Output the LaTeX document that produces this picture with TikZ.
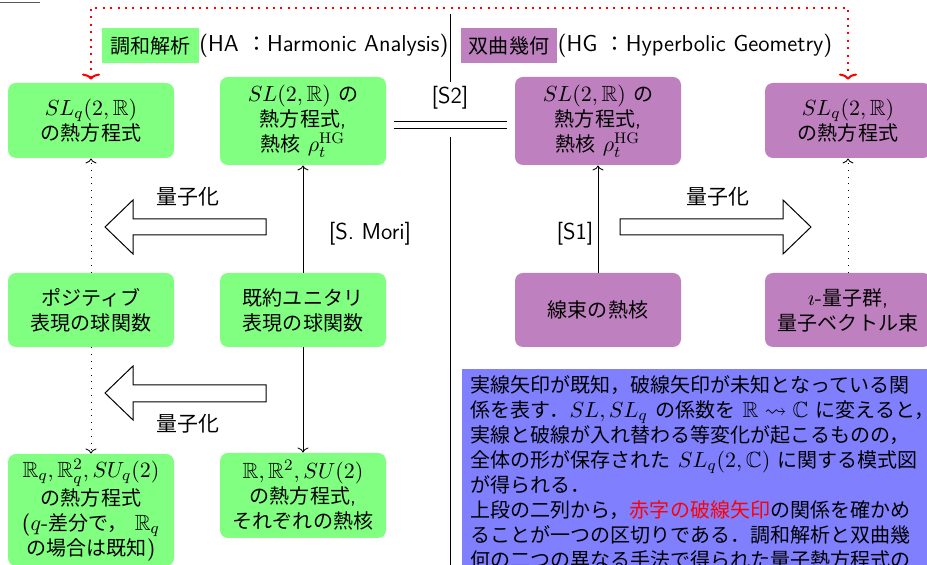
\documentclass[tikz,border=0pt]{standalone}
\usepackage{amssymb}
\usepackage{fontspec}
\renewcommand{\familydefault}{\sfdefault}
\newfontfamily\jpfont{Noto Sans CJK JP}[Scale=0.91]
\newcommand{\jp}[1]{{\jpfont #1}}
\usetikzlibrary{arrows.meta}
\tikzset{
  every node/.append style={font=\fontsize{11}{12.5}\selectfont},
  habox/.style={fill=green!50, rounded corners=4pt, minimum width=83pt, align=center, inner sep=2pt},
  hgbox/.style={fill=violet!50, rounded corners=4pt, minimum width=83pt, align=center, inner sep=2pt},
  tagbox/.style={minimum height=17.5pt, inner xsep=4pt, inner ysep=0pt},
  known/.style={line width=0.4pt, -{To[length=2.5pt,width=5.5pt]}},
  unknown/.style={line width=0.4pt, dash pattern=on 0.4pt off 3pt, -{To[length=2.5pt,width=5.5pt]}},
  redlink/.style={red, line width=1pt, dash pattern=on 1pt off 2.7pt,
     {To[length=3pt,width=9pt]}-{To[length=3pt,width=9pt]}, shorten <=1.5pt, shorten >=1.5pt},
  blockarrow/.style={draw=black, fill=white, line width=0.5pt},
  lbl/.style={inner sep=0pt, font=\fontsize{11.5}{13}\selectfont},
}
\begin{document}
\begin{tikzpicture}[x=0.5pt,y=-0.5pt]
\useasboundingbox (0,0) rectangle (927,565);
\clip (0,0) rectangle (927,565);

% header rule remnant
\draw[black!65, line width=0.75pt] (0,2.5) -- (40,2.5);

% headers
\node[tagbox, fill=green!50] (hatag) at (150.5,45.5) {\jp{調和解析}};
\node[anchor=west, lbl] (hatxt) at (hatag.east) {(HA \jp{：}Harmonic Analysis)};
\node[tagbox, fill=violet!50] (hgtag) at (509,45.5) {\jp{双曲幾何}};
\node[anchor=west, lbl] (hgtxt) at (hgtag.east) {(HG \jp{：}Hyperbolic Geometry)};

% top row
\node[habox, minimum height=37.5pt] (b1) at (91,120.5) {$SL_q(2,\mathbb{R})$\\\jp{の熱方程式}};
\node[habox, minimum height=44pt] (b2) at (303,121) {$SL(2,\mathbb{R})$ \jp{の}\\\jp{熱方程式},\\\jp{熱核} $\rho_t^{\mathrm{HG}}$};
\node[hgbox, minimum height=44pt] (b3) at (598,121) {$SL(2,\mathbb{R})$ \jp{の}\\\jp{熱方程式},\\\jp{熱核} $\rho_t^{\mathrm{HG}}$};
\node[hgbox, minimum height=37.5pt] (b4) at (848,120.5) {$SL_q(2,\mathbb{R})$\\\jp{の熱方程式}};

% middle row
\node[habox, minimum height=37pt] (m1) at (91,310) {\jp{ポジティブ}\\\jp{表現の球関数}};
\node[habox, minimum height=37pt] (m2) at (303,310) {\jp{既約ユニタリ}\\\jp{表現の球関数}};
\node[hgbox, minimum height=37pt] (m3) at (598,310) {\jp{線束の熱核}};
\node[hgbox, minimum height=37pt] (m4) at (848,310) {$\imath$-\jp{量子群},\\\jp{量子ベクトル束}};

% bottom row
\node[habox, minimum height=56pt] (l1) at (91,510) {$\mathbb{R}_q, \mathbb{R}_q^2, SU_q(2)$\\\jp{の熱方程式}\\($q$-\jp{差分で，} $\mathbb{R}_q$\\\jp{の場合は既知})};
\node[habox, minimum height=42.5pt] (l2) at (303,495.5) {$\mathbb{R}, \mathbb{R}^2, SU(2)$\\\jp{の熱方程式},\\\jp{それぞれの熱核}};

% divider
\coordinate (dvtop) at (450,14);
\coordinate (dvmid) at (450,82);
\coordinate (dvlow) at (450,137);
\coordinate (dvbot) at (450,570);
\draw[line width=0.5pt] (dvtop) -- (dvmid);
\draw[line width=0.5pt] (dvlow) -- (dvbot);
\node[lbl] (s2) at (450,98) {[S2]};
\draw[line width=0.4pt, double distance=2.9pt, shorten <=4pt, shorten >=4pt]
  ([yshift=-2pt]b2.east) -- ([yshift=-2pt]b3.west);

% red link
\coordinate (rl) at (91,8);
\coordinate (rr) at (848,8);
\draw[redlink] (b1.north) -- (rl) -- (rr) -- (b4.north);

% vertical arrows
\draw[unknown] (m1.north) -- (b1.south);
\draw[unknown] (m1.south) -- (l1.north);
\draw[known] (m2.north) -- (b2.south);
\draw[known] (m2.south) -- (l2.north);
\draw[known] (m3.north) -- (b3.south);
\draw[unknown] (m4.north) -- (b4.south);
\node[lbl] (smori) at (370,234) {[S. Mori]};
\node[lbl] (s1) at (575,234) {[S1]};

% block arrows
\draw[blockarrow] (266,219) -- (133,219) -- (133,200) -- (105,227) -- (133,254) -- (133,235) -- (266,235) -- cycle;
\node[lbl] (q1) at (188,197) {\jp{量子化}};
\draw[blockarrow] (266,385) -- (133,385) -- (133,366) -- (105,393) -- (133,420) -- (133,402) -- (266,402) -- cycle;
\node[lbl] (q2) at (188,424) {\jp{量子化}};
\draw[blockarrow] (620,219) -- (783,219) -- (783,200) -- (811,227) -- (783,254) -- (783,235) -- (620,235) -- cycle;
\node[lbl] (q3) at (718,197) {\jp{量子化}};

% note box
\fill[blue!50] (462,369) rectangle (935,575);
\node[anchor=north west, inner sep=0pt, text width=250pt, align=left,
      font=\fontsize{11}{12.5}\selectfont] (note) at (470,375) {%
\jp{実線矢印が既知，破線矢印が未知となっている関}\\
\jp{係を表す．}$SL, SL_q$ \jp{の係数を} $\mathbb{R}\rightsquigarrow\mathbb{C}$ \jp{に変えると，}\\
\jp{実線と破線が入れ替わる等変化が起こるものの，}\\
\jp{全体の形が保存された} $SL_q(2,\mathbb{C})$ \jp{に関する模式図}\\
\jp{が得られる．}\\
\jp{上段の二列から，}\textcolor{red}{\jp{赤字の破線矢印}}\jp{の関係を確かめ}\\
\jp{ることが一つの区切りである．調和解析と双曲幾}\\
\jp{何の二つの異なる手法で得られた量子熱方程式の}};
\end{tikzpicture}
\end{document}
